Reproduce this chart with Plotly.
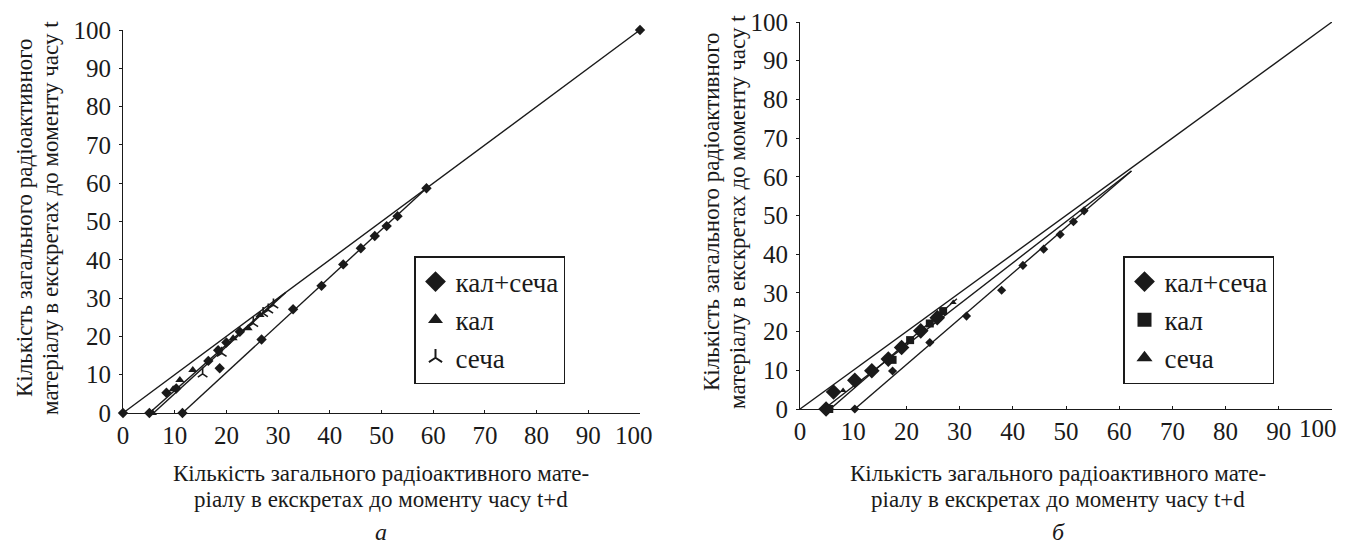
import plotly.graph_objects as go

# page is 1353x558; the html body keeps an 8px margin around the figure
OFF = 8
W, H = 1353 - 2 * OFF, 558 - 2 * OFF

# ---------------- data: panel "а" ----------------
a_diag_x = [0, 100]
a_diag_y = [0, 100]
a_fit1_x = [5.1, 31.0]
a_fit1_y = [0, 31.0]
a_fit2_x = [5.9, 31.5]
a_fit2_y = [0, 31.5]
a_fit3_x = [11.5, 58.7]
a_fit3_y = [0, 58.7]

a_both_x = [0, 5.1, 11.5, 8.4, 10.3, 16.5, 18.4, 18.7, 20.0, 22.6, 26.8, 32.9, 38.4, 42.6, 46.0, 48.7, 51.0, 53.1, 58.7, 100]
a_both_y = [0, 0, 0, 5.3, 6.4, 13.6, 16.4, 11.7, 18.4, 21.2, 19.2, 27.1, 33.2, 38.8, 43.0, 46.2, 48.8, 51.4, 58.7, 100]
a_kal_x = [5.7, 9.7, 11.0, 13.5, 21.3, 24.2, 26.5]
a_kal_y = [0, 6.2, 8.6, 11.2, 19.5, 22.1, 25.6]
a_secha_x = [15.4, 19.1, 25.2, 27.1, 28.1, 29.1]
a_secha_y = [10.2, 15.6, 23.4, 26.0, 26.9, 28.2]

# ---------------- data: panel "б" ----------------
b_diag_x = [0, 100]
b_diag_y = [0, 100]
b_fit1_x = [4.5, 62.3]
b_fit1_y = [0, 61.5]
b_fit2_x = [5.7, 29.5]
b_fit2_y = [0, 28.5]
b_fit3_x = [10.3, 62.3]
b_fit3_y = [0, 61.5]

b_both_up_x = [4.9, 6.3, 10.3, 13.5, 16.6, 19.1, 22.7, 25.8]
b_both_up_y = [0, 4.4, 7.4, 9.9, 12.9, 15.9, 20.2, 23.6]
b_both_lo_x = [10.3, 17.4, 24.4, 31.3, 37.9, 41.9, 45.8, 48.9, 51.4, 53.4]
b_both_lo_y = [0, 9.8, 17.2, 24.0, 30.7, 37.1, 41.3, 45.1, 48.4, 51.2]
b_kal_x = [5.5, 17.4, 20.7, 24.4, 26.9]
b_kal_y = [0, 12.7, 17.8, 22.1, 25.3]
b_secha_x = [8.1, 28.8]
b_secha_y = [4.8, 27.5]

ticks = list(range(0, 101, 10))
tick_labels = [str(t) for t in ticks]
x_tick_labels_a = tick_labels[:-1] + ["100\u2007"]
# the last label of panel б sits at the page edge; it is written as a separate text below
x_tick_labels_b = tick_labels[:-1] + [""]
last_tick_label_b = tick_labels[-1]
legend_a = ["кал+сеча", "кал", "сеча"]
legend_b = ["кал+сеча", "кал", "сеча"]
y_title_lines = ["Кількість загального радіоактивного",
                 "матеріалу в екскретах до моменту часу t"]
x_title_lines = ["Кількість загального радіоактивного мате-",
                 "ріалу в екскретах до моменту часу t+d"]
panel_labels = ["а", "б"]

INK = "#1a1a1a"
FONT = "Liberation Serif"


def px_x(p):
    return (p - OFF) / W


def px_y(p):
    return 1 - (p - OFF) / H


fig = go.Figure()


def line(x, y, xa, ya):
    fig.add_trace(go.Scatter(x=x, y=y, mode="lines", line=dict(color=INK, width=1.4),
                             xaxis=xa, yaxis=ya, showlegend=False, hoverinfo="skip",
                             cliponaxis=False))


def pts(x, y, sym, size, xa, ya, lw=0):
    fig.add_trace(go.Scatter(x=x, y=y, mode="markers",
                             marker=dict(symbol=sym, size=size, color=INK,
                                         line=dict(color=INK, width=lw)),
                             xaxis=xa, yaxis=ya, showlegend=False, cliponaxis=False))


def leg(name, sym, size, legend, group, xa, ya, lw=0):
    fig.add_trace(go.Scatter(x=[None], y=[None], mode="markers", name=name,
                             marker=dict(symbol=sym, size=size, color=INK,
                                         line=dict(color=INK, width=lw)),
                             xaxis=xa, yaxis=ya, legend=legend, legendgroup=group))


# panel a
for lx, ly in [(a_diag_x, a_diag_y), (a_fit1_x, a_fit1_y), (a_fit2_x, a_fit2_y), (a_fit3_x, a_fit3_y)]:
    line(lx, ly, "x", "y")
pts(a_both_x, a_both_y, "diamond", 8, "x", "y")
pts(a_kal_x, a_kal_y, "triangle-up", 8, "x", "y")
pts(a_secha_x, a_secha_y, "y-up-open", 8, "x", "y", lw=1.6)
leg(legend_a[0], "diamond", 16, "legend", "a1", "x", "y")
leg(legend_a[1], "triangle-up", 13, "legend", "a2", "x", "y")
leg(legend_a[2], "y-up-open", 11, "legend", "a3", "x", "y", lw=2)

# panel b
for lx, ly in [(b_diag_x, b_diag_y), (b_fit1_x, b_fit1_y), (b_fit2_x, b_fit2_y), (b_fit3_x, b_fit3_y)]:
    line(lx, ly, "x2", "y2")
pts(b_both_lo_x, b_both_lo_y, "diamond", 7, "x2", "y2")
pts(b_both_up_x, b_both_up_y, "diamond", 12, "x2", "y2")
pts(b_kal_x, b_kal_y, "square", 8, "x2", "y2")
pts(b_secha_x, b_secha_y, "triangle-up", 6, "x2", "y2")
leg(legend_b[0], "diamond", 16, "legend2", "b1", "x2", "y2")
leg(legend_b[1], "square", 14, "legend2", "b2", "x2", "y2")
leg(legend_b[2], "triangle-up", 14, "legend2", "b3", "x2", "y2")

TICK_FONT = dict(family=FONT, size=25, color=INK)
axis_common = dict(range=[0, 100], tickvals=ticks,
                   showgrid=False, zeroline=False, showline=True, linecolor=INK, linewidth=1.2,
                   ticklen=3, tickcolor=INK, automargin=False,
                   tickfont=TICK_FONT, fixedrange=True)
yaxis_extra = dict(ticks="outside", ticklabelstandoff=3, ticktext=tick_labels)

legend_common = dict(font=dict(family=FONT, size=27, color=INK), bgcolor="white",
                     bordercolor=INK, borderwidth=1.5, xanchor="left", yanchor="top",
                     tracegroupgap=0, itemsizing="trace")

fig.update_layout(
    template="none",
    width=W, height=H, margin=dict(l=0, r=0, t=0, b=0, pad=0, autoexpand=False),
    paper_bgcolor="white", plot_bgcolor="white",
    xaxis=dict(domain=[px_x(123), px_x(640)], anchor="y", ticks="inside",
               ticktext=x_tick_labels_a, **axis_common),
    yaxis=dict(domain=[px_y(413), px_y(30)], anchor="x", **axis_common, **yaxis_extra),
    xaxis2=dict(domain=[px_x(800), px_x(1332)], anchor="y2", ticks="inside",
                ticktext=x_tick_labels_b, **axis_common),
    yaxis2=dict(domain=[px_y(409), px_y(22)], anchor="x2", **axis_common, **yaxis_extra),
    legend=dict(x=px_x(414), y=px_y(256), **legend_common),
    legend2=dict(x=px_x(1123), y=px_y(256), **legend_common),
    showlegend=True,
)

common_ann = dict(xref="paper", yref="paper", showarrow=False, xanchor="center", yanchor="middle")
# last x tick label of panel б, pulled slightly left of its tick as in the reference
fig.add_annotation(text=last_tick_label_b, x=px_x(1318), y=px_y(428), font=TICK_FONT, **common_ann)

ann_font = dict(family=FONT, size=23, color=INK)
# y titles (rotated, one annotation per line)
for (cx1, cx2, cy) in [(24, 50, 218), (711, 737, 212)]:
    fig.add_annotation(text=y_title_lines[0], x=px_x(cx1), y=px_y(cy), textangle=-90,
                       font=ann_font, **common_ann)
    fig.add_annotation(text=y_title_lines[1], x=px_x(cx2), y=px_y(cy), textangle=-90,
                       font=ann_font, **common_ann)
# x titles
for cx in [381, 1058]:
    fig.add_annotation(text=x_title_lines[0], x=px_x(cx), y=px_y(473), font=ann_font, **common_ann)
    fig.add_annotation(text=x_title_lines[1], x=px_x(cx), y=px_y(499), font=ann_font, **common_ann)
fig.add_annotation(text="<i>" + panel_labels[0] + "</i>", x=px_x(381), y=px_y(532),
                   font=dict(family=FONT, size=24, color=INK), **common_ann)
fig.add_annotation(text="<i>" + panel_labels[1] + "</i>", x=px_x(1058), y=px_y(532),
                   font=dict(family=FONT, size=24, color=INK), **common_ann)

fig.write_html("out.html")
